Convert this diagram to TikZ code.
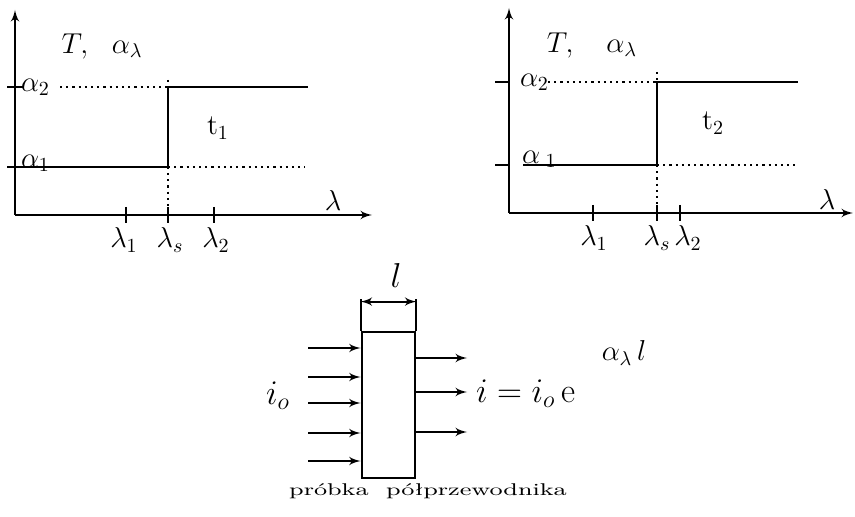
\documentclass[tikz,border=0pt]{standalone}
\usepackage{amsmath,amsfonts,amssymb}
\usepackage{tikz}
\usetikzlibrary{arrows}
\usetikzlibrary{positioning}

\begin{document}
\begin{tikzpicture}[x=0.5pt,y=-0.5pt,>=latex',line width=1pt,
    font=\fontsize{14.4}{17}\selectfont]
            % styles
            \tikzstyle{axis}=[->]
            \tikzstyle{level}=[line width=1.4pt]
            \tikzstyle{guide}=[dotted,line width=1.1pt]
            \tikzstyle{lbl}=[inner sep=0.5pt]
            \tikzstyle{big}=[lbl,font=\fontsize{17.28}{20}\selectfont]
            \useasboundingbox (0,0) rectangle (855,517);

            % left chart, t_1
            \coordinate (O1) at (15,215);
            \draw[axis] (O1) -- (15,10);
            \draw[axis] (O1) -- (372,215);
            \draw (7,87) -- (23,87);
            \draw (7,167) -- (23,167);
            \foreach \x in {126,168,214} \draw (\x,207) -- (\x,223);
            \draw[guide] (60,87) -- (168,87);
            \draw[guide] (168,167) -- (305,167);
            \draw[guide] (168,80) -- (168,215);
            \draw[level] (20,167) -- (168,167) -- (168,87) -- (308,87);
            \node[lbl,anchor=west] (a2L) at (19,87) {$\alpha_2$};
            \node[lbl,anchor=west] (a1L) at (19,163) {$\alpha_1$};
            \node[lbl] (TL) at (102,46) {$T,\ \ \alpha_\lambda$};
            \node[lbl] (tL) at (218,128) {t$_1$};
            \node[lbl] (lamL) at (333,201) {$\lambda$};
            \node[lbl] (l1L) at (124,240) {$\lambda_1$};
            \node[lbl] (lsL) at (170,240) {$\lambda_s$};
            \node[lbl] (l2L) at (216,240) {$\lambda_2$};

            % right chart, t_2
            \coordinate (O2) at (509,213);
            \draw[axis] (O2) -- (509,8);
            \draw[axis] (O2) -- (853,213);
            \draw (495,82) -- (509,82);
            \draw (495,165) -- (509,165);
            \foreach \x in {593,657,680} \draw (\x,205) -- (\x,221);
            \draw[guide] (548,82) -- (657,82);
            \draw[guide] (657,165) -- (795,165);
            \draw[guide] (657,72) -- (657,213);
            \draw[level] (523,165) -- (657,165) -- (657,82) -- (798,82);
            \node[lbl,anchor=west] (a2R) at (518,82) {$\alpha_2$};
            \node[lbl,anchor=west] (a1R) at (520,159) {$\alpha_{\;1}$};
            \node[lbl] (TR) at (592,45) {$T,\ \ \ \alpha_\lambda$};
            \node[lbl] (tR) at (713,123) {t$_2$};
            \node[lbl] (lamR) at (827,200) {$\lambda$};
            \node[lbl] (l1R) at (594,238) {$\lambda_1$};
            \node[lbl] (lsR) at (657,238) {$\lambda_s$};
            \node[lbl] (l2R) at (688,238) {$\lambda_2$};

            % semiconductor sample
            \node[draw,line width=1.4pt,minimum width=26.5pt,minimum height=73pt,inner sep=0pt] (sample) at (388.5,405) {};
            \coordinate (wl) at ([yshift=14.5pt]sample.north west);
            \coordinate (wr) at ([yshift=14.5pt]sample.north east);
            \draw (sample.north west) -- ([yshift=16pt]sample.north west);
            \draw (sample.north east) -- ([yshift=16pt]sample.north east);
            \draw[<->] (wl) -- (wr);
            \node[big] (width) at (396,276) {$l$};
            \foreach \y in {348,377,403,433,461}
                \draw[->] (308,\y) -- (sample.west |- 0,\y);
            \foreach \y in {358,392,432}
                \draw[->] (sample.east |- 0,\y) -- (467,\y);
            \node[big] (io) at (278,396) {$i_o$};
            \node[big,anchor=west] (iout) at (474,394) {$i = i_o\,\mathrm{e}$};
            \node[lbl] (expo) at (624,353) {$\alpha_\lambda\, l$};
            \node[lbl] (caption) at (428,491) {\scalebox{1.5}[1]{\fontsize{8.5}{10}\selectfont pr\'obka\ \ p\'o\l przewodnika}};
        \end{tikzpicture}
\end{document}
